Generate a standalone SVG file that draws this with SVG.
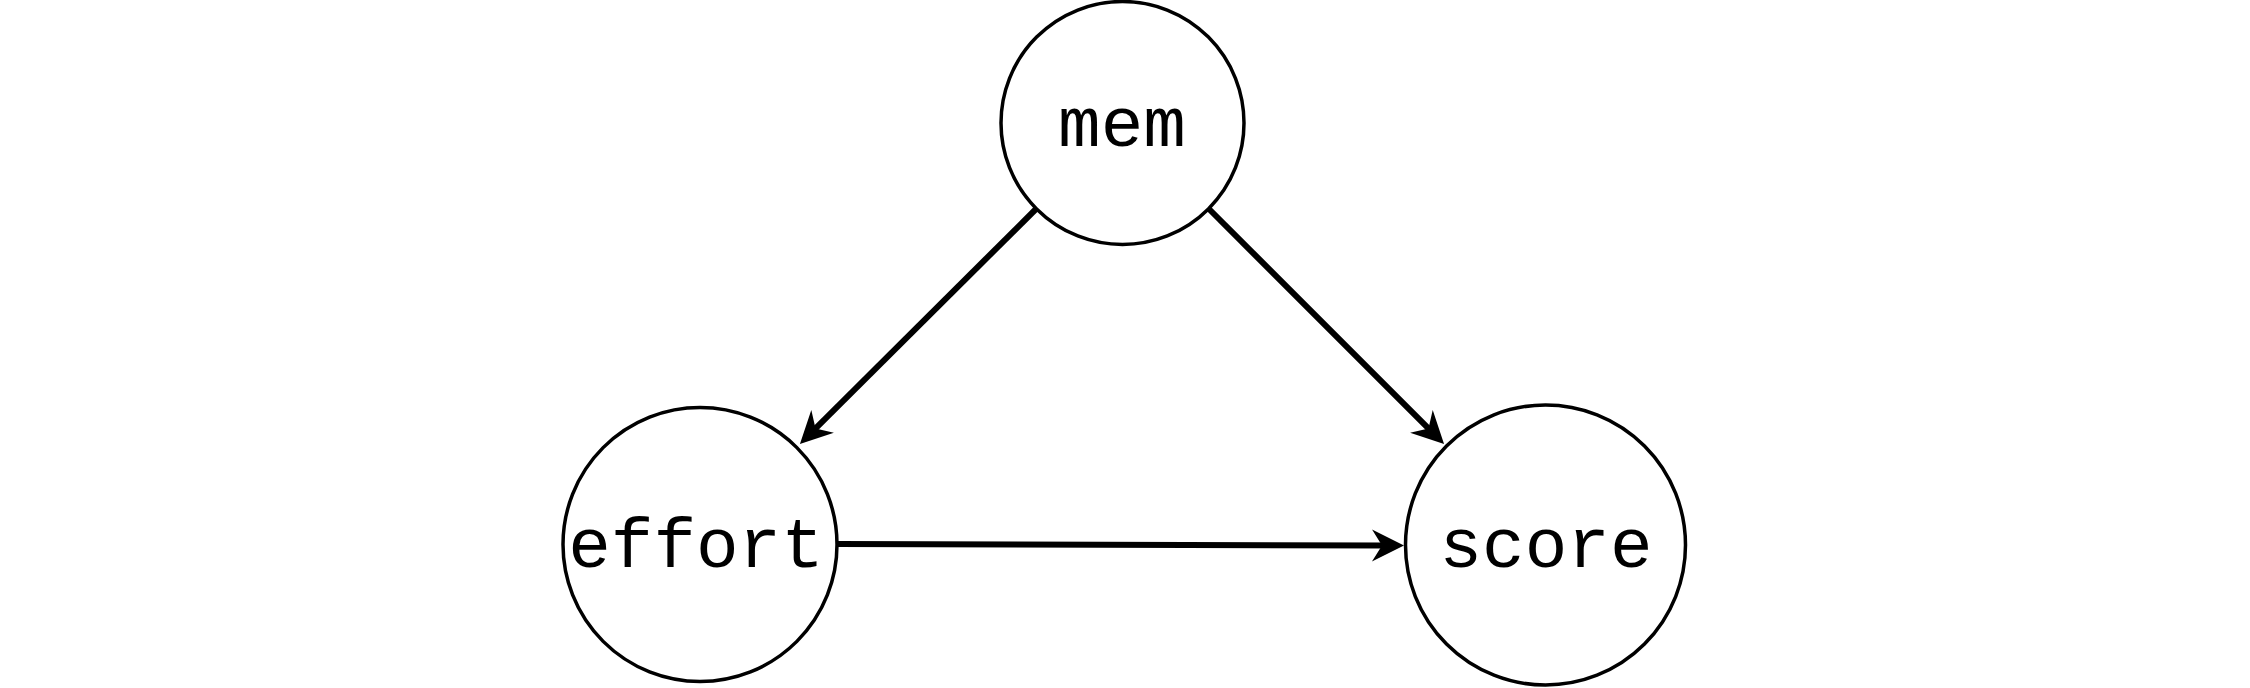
<svg xmlns="http://www.w3.org/2000/svg" width="2250" height="688" viewBox="0 0 2250 688">
<style>
.node circle{fill:#fff;stroke:#000;stroke-width:3.5}
.node text{font-family:"Liberation Mono","Courier New",monospace;font-size:71px;text-anchor:middle;fill:#000}
.edge{stroke:#000;stroke-width:6;fill:none}
</style>
<defs>
<marker id="arr" markerUnits="userSpaceOnUse" markerWidth="40" markerHeight="40" viewBox="-36 -20 40 40" refX="-20" refY="0" orient="auto">
<path d="M0,0 L-32,-16 L-22,0 L-32,16 Z" fill="#000"/>
</marker>
</defs>
<rect width="2250" height="688" fill="#fff"/>
<g id="connectors">
<line class="edge" x1="1036" y1="209" x2="814.1" y2="429.9" marker-end="url(#arr)"/>
<line class="edge" x1="1209" y1="209" x2="1429.9" y2="429.9" marker-end="url(#arr)"/>
<line class="edge" x1="838" y1="544" x2="1384" y2="545.5" marker-end="url(#arr)"/>
</g>
<g id="mem" class="node">
<circle cx="1122.5" cy="123" r="121.5"/>
<text x="1122" y="146">mem</text>
</g>
<g id="effort" class="node">
<circle cx="700" cy="544.5" r="137"/>
<text x="696" y="567">effort</text>
</g>
<g id="score" class="node">
<circle cx="1545.5" cy="545" r="140"/>
<text x="1546" y="567">score</text>
</g>
</svg>
